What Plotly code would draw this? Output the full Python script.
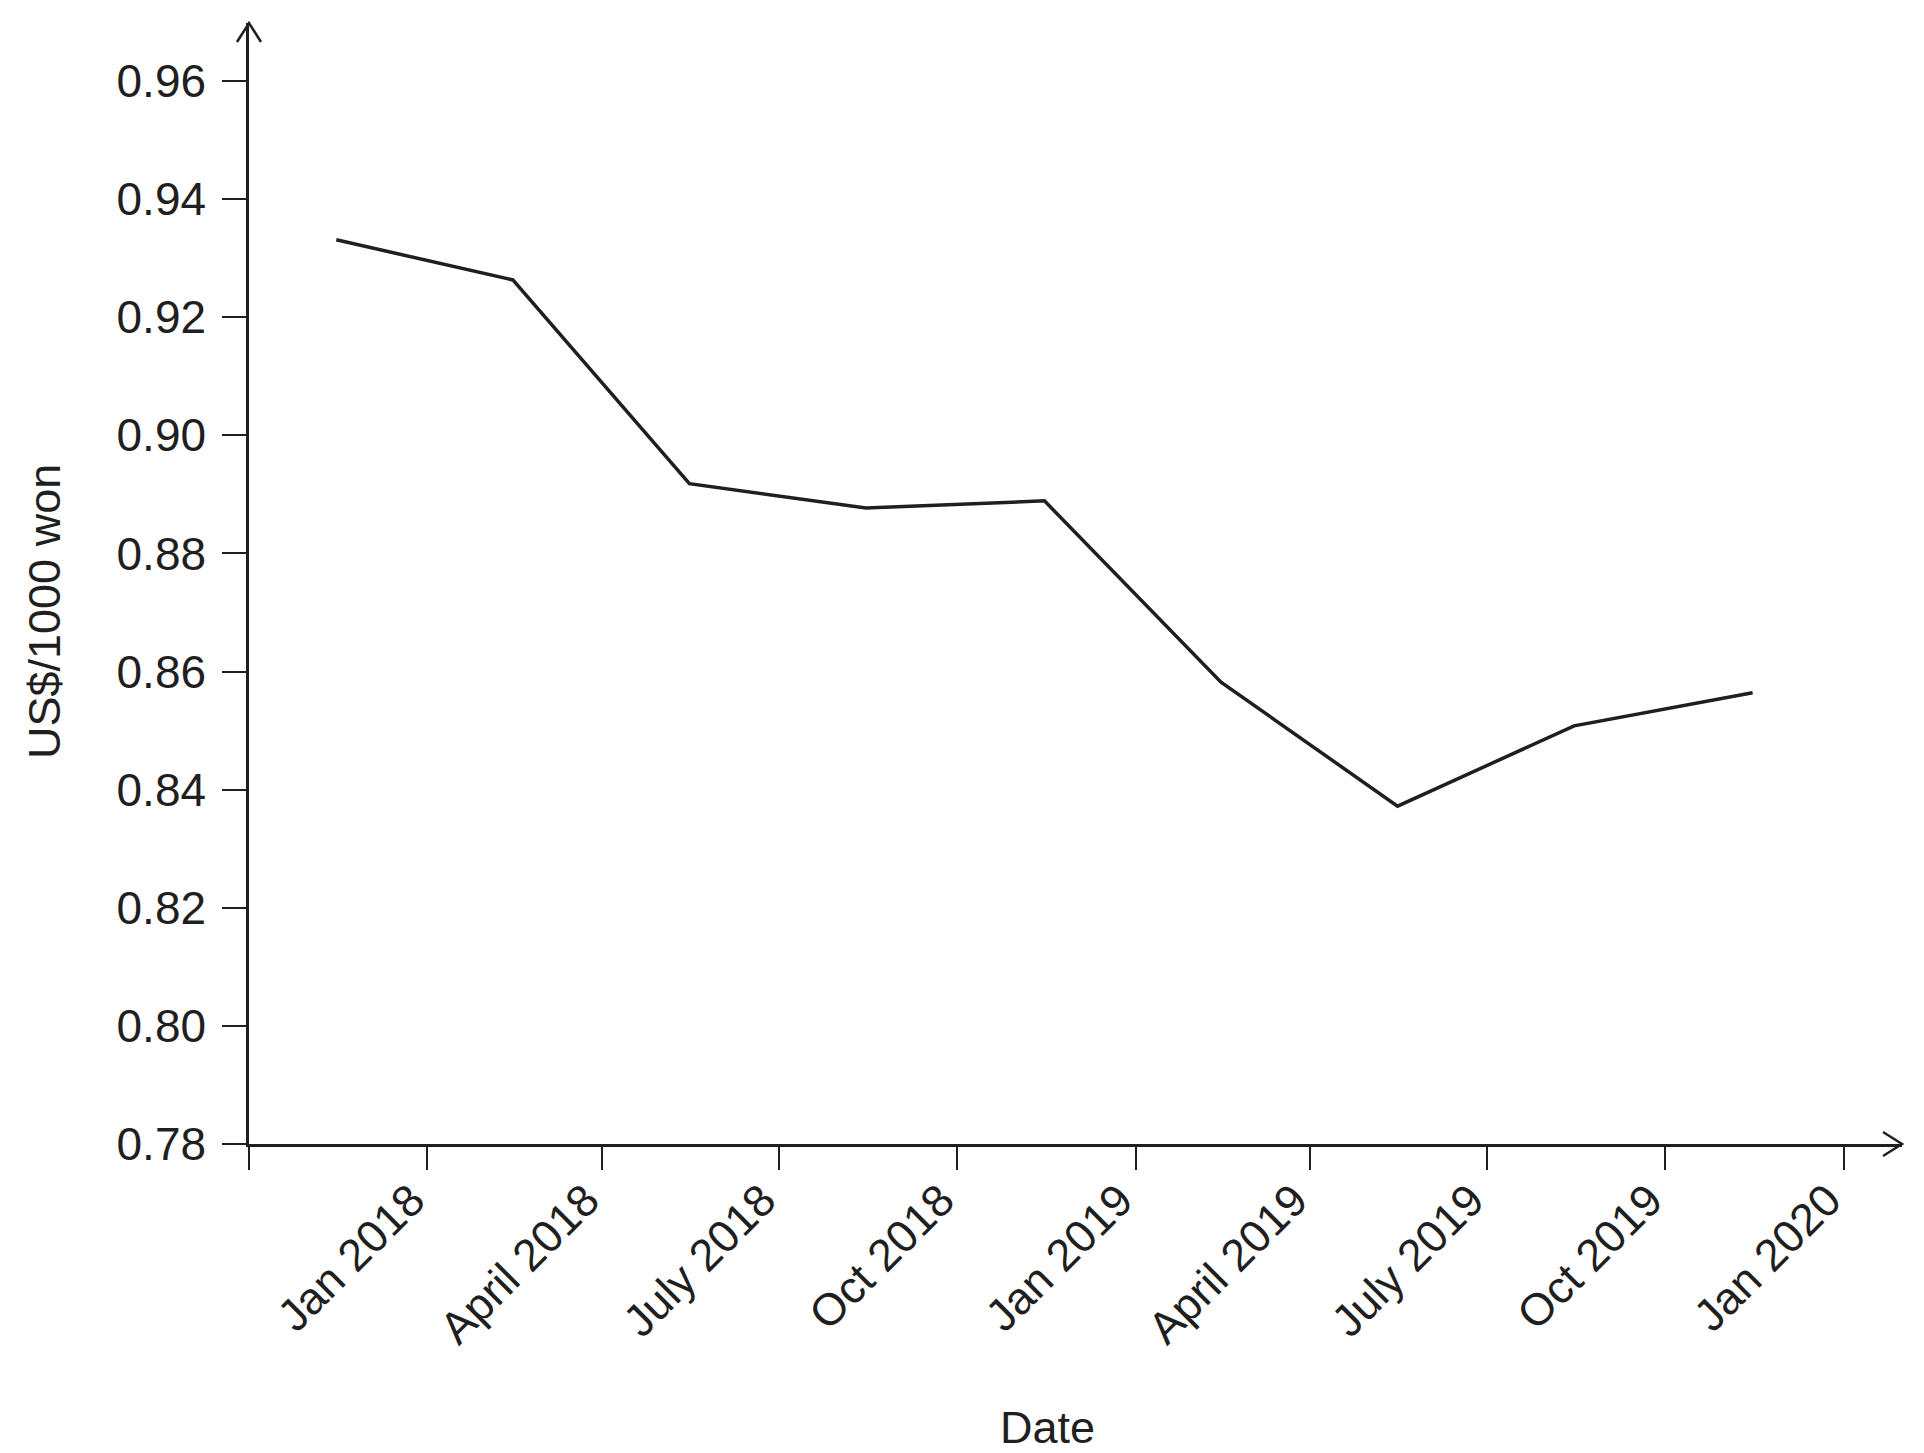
import plotly.graph_objects as go

# Data (quarterly, plotted at mid-quarter)
dates = ["2017-11-15", "2018-02-14", "2018-05-16", "2018-08-15", "2018-11-15",
         "2019-02-14", "2019-05-16", "2019-08-15", "2019-11-15"]
rates = [0.9331, 0.9263, 0.8918, 0.8877, 0.8889, 0.8582, 0.8372, 0.8508, 0.8564]

tick_dates = ["2017-10-01", "2018-01-01", "2018-04-01", "2018-07-01", "2018-10-01",
              "2019-01-01", "2019-04-01", "2019-07-01", "2019-10-01", "2020-01-01"]
tick_labels = ["", "Jan 2018", "April 2018", "July 2018", "Oct 2018",
               "Jan 2019", "April 2019", "July 2019", "Oct 2019", "Jan 2020"]
y_ticks = [0.78, 0.80, 0.82, 0.84, 0.86, 0.88, 0.90, 0.92, 0.94, 0.96]

INK = "#1f1f1f"
FONT = "Liberation Sans, Arial, sans-serif"

W, H = 1924, 1453
L, R, T, B = 249, 22, 23, 309
pw, ph = W - L - R, H - T - B

fig = go.Figure()
fig.add_trace(go.Scatter(x=dates, y=rates, mode="lines",
                         line=dict(color=INK, width=3.5), showlegend=False))

fig.update_layout(
    width=W, height=H,
    margin=dict(l=L, r=R, t=T, b=B),
    paper_bgcolor="white", plot_bgcolor="white",
    font=dict(family=FONT, size=45, color=INK),
    xaxis=dict(
        type="date",
        range=["2017-10-01", "2020-01-31"],
        tickmode="array", tickvals=tick_dates, ticktext=tick_labels,
        tickangle=-45,
        showgrid=False, zeroline=False,
        showline=True, linecolor=INK, linewidth=2.5,
        ticks="outside", ticklen=23, tickwidth=2, tickcolor=INK,
        ticklabelstandoff=-14,
        ticklabelshift=-16,
        tickfont=dict(size=45, family=FONT, color=INK),
    ),
    yaxis=dict(
        range=[0.78, 0.78 + ph / 5906.0],
        tickmode="array", tickvals=y_ticks,
        tickformat=".2f",
        showgrid=False, zeroline=False,
        showline=True, linecolor=INK, linewidth=2.5,
        ticks="outside", ticklen=24, tickwidth=2, tickcolor=INK,
        ticklabelstandoff=7,
        tickfont=dict(size=46, family=FONT, color=INK),
    ),
)

# Arrowheads at axis ends (paper coords)
ax = 12 / pw
ay = 19 / ph
fig.add_shape(type="path", xref="paper", yref="paper",
              path=f"M {-ax},{1-ay} L 0,1 L {ax},{1-ay}",
              line=dict(color=INK, width=2.5))
bx = 19 / pw
by = 12 / ph
fig.add_shape(type="path", xref="paper", yref="paper",
              path=f"M {1-bx},{by} L 1,0 L {1-bx},{-by}",
              line=dict(color=INK, width=2.5))

# Axis titles
fig.add_annotation(text="Date", xref="paper", yref="paper",
                   x=(1047 - L) / pw, y=(H - B - 1427) / ph,
                   xanchor="center", yanchor="middle", showarrow=False,
                   font=dict(size=45, family=FONT, color=INK))
fig.add_annotation(text="US$/1000 won", xref="paper", yref="paper",
                   x=(45 - L) / pw, y=(H - B - 612) / ph,
                   xanchor="center", yanchor="middle", showarrow=False,
                   textangle=-90,
                   font=dict(size=45, family=FONT, color=INK))

fig.write_html("out.html")
